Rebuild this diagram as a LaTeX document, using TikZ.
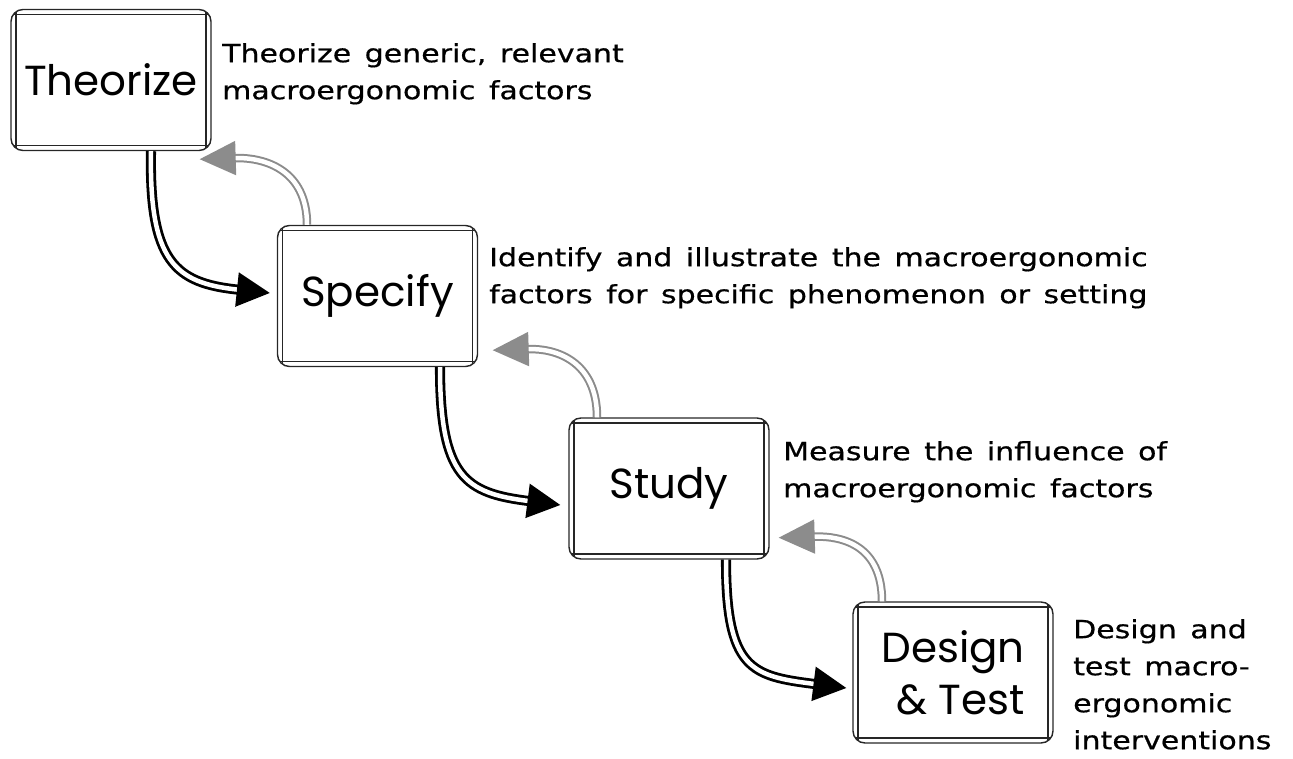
\documentclass[tikz,border=0pt]{standalone}
\usepackage{fontspec}
\setmainfont{DejaVu Sans}[FakeStretch=1.2, FakeBold=0.6]
\newfontfamily\stagefont{Poppins}
\usetikzlibrary{arrows.meta}
\newcommand\notespacing{\spaceskip=13.5pt plus 0pt minus 0pt\relax}

\tikzset{
  stage/.style={draw=black!85, line width=1.4pt, rounded corners=12pt,
    minimum width=200pt, minimum height=141pt, inner sep=0pt,
    font=\stagefont\fontsize{42}{52}\selectfont,
    path picture={
      \draw[line width=1.1pt, black!85]
        ([xshift=5pt]path picture bounding box.south west) -- ([xshift=5pt]path picture bounding box.north west)
        ([xshift=-5pt]path picture bounding box.south east) -- ([xshift=-5pt]path picture bounding box.north east)
        ([yshift=5pt]path picture bounding box.south west) -- ([yshift=5pt]path picture bounding box.south east)
        ([yshift=-5pt]path picture bounding box.north west) -- ([yshift=-5pt]path picture bounding box.north east);
    }},
  note/.style={anchor=north west, inner sep=0pt, align=left,
    font=\fontsize{25}{37}\selectfont\notespacing},
  forward/.style={draw=black, double=white, line width=2.8pt, double distance=4.5pt,
    -{Triangle[length=33pt,width=34pt]}},
  back/.style={draw=black!45, double=white, line width=2pt, double distance=4.5pt,
    -{Triangle[length=36pt,width=34pt]}}
}

\begin{document}
\begin{tikzpicture}[x=1pt, y=-1pt]
  \useasboundingbox (0,0) rectangle (1293,759);

  % stages
  \node[stage] (theo) at (111,80) {Theorize};
  \node[stage] (spec) at (377.5,296) {Specify};
  \node[stage] (stud) at (669,488.5) {Study};
  \node[stage, align=right] (desi) at (953,672.5) {Design\\ \& Test};

  % descriptions
  \node[note] (theoNote) at (222,43) {Theorize generic, relevant\\macroergonomic factors};
  \node[note] (specNote) at (489,247) {Identify and illustrate the macroergonomic\\factors for specific phenomenon or setting};
  \node[note] (studNote) at (783,441) {Measure the influence of\\macroergonomic factors};
  \node[note] (desiNote) at (1073,619) {Design and\\test macro-\\ergonomic\\interventions};

  % forward arrows
  \draw[forward] ([xshift=40pt]theo.south) .. controls +(-2,110) and +(-95,-10) .. ([shift={(-7pt,3pt)}]spec.west);
  \draw[forward] ([xshift=62.5pt]spec.south) .. controls +(0,110) and +(-95,-12) .. ([shift={(-8pt,-16.5pt)}]stud.west);
  \draw[forward] ([xshift=57pt]stud.south) .. controls +(0,110) and +(-95,-12) .. ([shift={(-6pt,-15.5pt)}]desi.west);

  % feedback arrows
  \draw[back] ([xshift=-70.5pt]spec.north) .. controls +(0,-55) and +(65,-2) .. ([shift={(-12pt,-8pt)}]theo.south east);
  \draw[back] ([xshift=-72pt]stud.north) .. controls +(0,-55) and +(65,-2) .. ([shift={(14.5pt,17pt)}]spec.south east);
  \draw[back] ([xshift=-71pt]desi.north) .. controls +(0,-55) and +(65,-2) .. ([shift={(9pt,22pt)}]stud.south east);
\end{tikzpicture}
\end{document}
